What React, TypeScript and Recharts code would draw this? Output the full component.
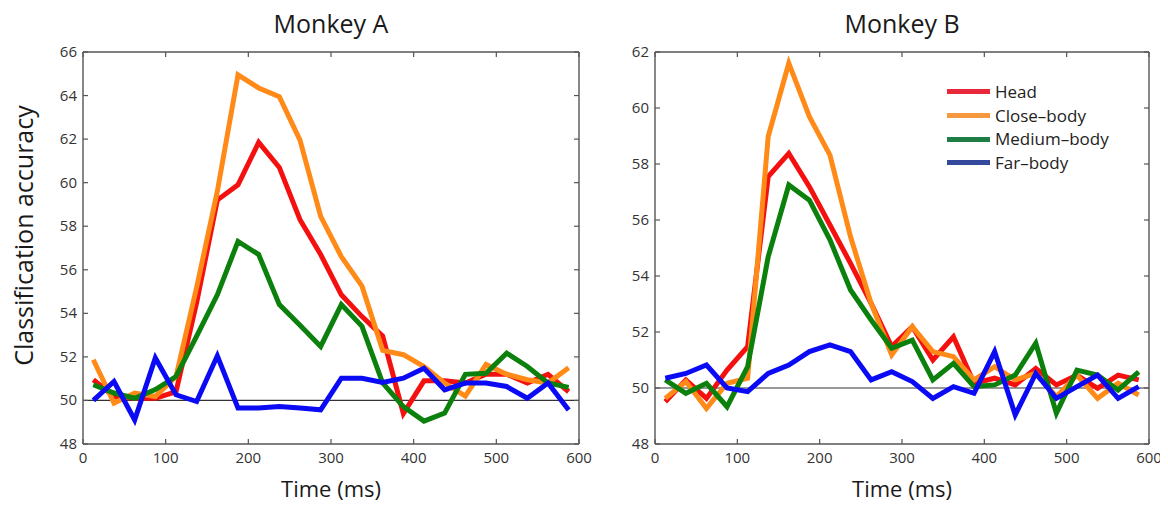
import React from 'react';
import { LineChart, Line, XAxis, YAxis, ReferenceLine, Legend } from 'recharts';

// ---------- data ----------
const times = [12.5, 37.5, 62.5, 87.5, 112.5, 137.5, 162.5, 187.5, 212.5, 237.5, 262.5, 287.5,
  312.5, 337.5, 362.5, 387.5, 412.5, 437.5, 462.5, 487.5, 512.5, 537.5, 562.5, 587.5];

const xTicks = [0, 100, 200, 300, 400, 500, 600];
const yTicksA = [48, 50, 52, 54, 56, 58, 60, 62, 64, 66];
const yTicksB = [48, 50, 52, 54, 56, 58, 60, 62];
const chanceLevel = 50;

const seriesNames = ['Head', 'Close\u2013body', 'Medium\u2013body', 'Far\u2013body'];
const seriesKeys = ['head', 'close', 'medium', 'far'];
const lineColors = ['#f51010', '#ff8a18', '#0c800c', '#0a0af5'];
const legendColors = ['#e8283a', '#f5983e', '#1d7d45', '#34489c'];

const aHead = [50.95, 50.18, 50.1, 50.1, 50.4, 54.5, 59.2, 59.9, 61.85, 60.7, 58.3, 56.7,
  54.85, 53.85, 52.95, 49.4, 50.9, 50.9, 50.8, 51.2, 51.2, 50.8, 51.2, 50.4];
const aClose = [51.87, 49.88, 50.34, 50.18, 51.1, 55.2, 59.6, 64.95, 64.35, 63.95, 61.95, 58.45,
  56.6, 55.25, 52.3, 52.1, 51.55, 50.8, 50.2, 51.65, 51.2, 50.95, 50.8, 51.5];
const aMedium = [50.72, 50.34, 50.1, 50.5, 51.1, 52.95, 54.85, 57.3, 56.7, 54.4, 53.45, 52.48,
  54.4, 53.4, 50.8, 49.72, 49.05, 49.42, 51.2, 51.25, 52.17, 51.56, 50.8, 50.6];
const aFar = [50.0, 50.87, 49.1, 51.95, 50.26, 49.95, 52.05, 49.65, 49.65, 49.72, 49.65, 49.57,
  51.02, 51.02, 50.83, 51.02, 51.48, 50.49, 50.8, 50.8, 50.64, 50.1, 50.8, 49.56];

const bHead = [49.51, 50.29, 49.63, 50.64, 51.48, 57.55, 58.38, 57.19, 55.82, 54.45, 53.02, 51.48,
  52.19, 51.0, 51.83, 50.17, 50.35, 50.11, 50.7, 50.11, 50.46, 49.99, 50.46, 50.29];
const bClose = [49.63, 50.23, 49.27, 50.17, 50.35, 58.98, 61.6, 59.69, 58.32, 55.4, 53.02, 51.18,
  52.19, 51.3, 51.12, 50.29, 50.76, 50.29, 50.52, 49.69, 50.46, 49.63, 50.17, 49.75];
const bMedium = [50.29, 49.81, 50.17, 49.33, 50.76, 54.69, 57.25, 56.71, 55.29, 53.5, 52.43, 51.42,
  51.71, 50.29, 50.88, 50.05, 50.11, 50.46, 51.6, 49.1, 50.64, 50.46, 49.93, 50.58];
const bFar = [50.35, 50.52, 50.82, 50.0, 49.87, 50.52, 50.82, 51.3, 51.54, 51.3, 50.29, 50.58,
  50.23, 49.63, 50.05, 49.81, 51.3, 49.04, 50.52, 49.63, 50.05, 50.46, 49.63, 50.05];

const build = (h: number[], c: number[], m: number[], f: number[]) =>
  times.map((t, i) => ({ t, head: h[i], close: c[i], medium: m[i], far: f[i] }));

const dataA = build(aHead, aClose, aMedium, aFar);
const dataB = build(bHead, bClose, bMedium, bFar);

// ---------- styling ----------
const FONT = '"Open Sans", "DejaVu Sans", sans-serif';
const AXIS = '#555';
const TICK_TEXT = '#333';
const TICK_LEN = 5;

const BottomTick = (props: any) => {
  const { x, y, payload } = props;
  return (
    <g>
      <line x1={x} y1={y} x2={x} y2={y - TICK_LEN} stroke={AXIS} strokeWidth={1.2} />
      <text x={x} y={y + 19} textAnchor="middle" fontSize={15} fill={TICK_TEXT} fontFamily={FONT}>
        {payload.value}
      </text>
    </g>
  );
};

const TopTick = (props: any) => {
  const { x, y } = props;
  return <line x1={x} y1={y} x2={x} y2={y + TICK_LEN} stroke={AXIS} strokeWidth={1.2} />;
};

const LeftTick = (props: any) => {
  const { x, y, payload } = props;
  return (
    <g>
      <line x1={x} y1={y} x2={x + TICK_LEN} y2={y} stroke={AXIS} strokeWidth={1.2} />
      <text x={x - 6} y={y} dy={5} textAnchor="end" fontSize={15} fill={TICK_TEXT} fontFamily={FONT}>
        {payload.value}
      </text>
    </g>
  );
};

const RightTick = (props: any) => {
  const { x, y } = props;
  return <line x1={x} y1={y} x2={x - TICK_LEN} y2={y} stroke={AXIS} strokeWidth={1.2} />;
};

const LegendBox = () => (
  <div style={{ fontFamily: FONT }}>
    {seriesNames.map((n, i) => (
      <div key={n} style={{ display: 'flex', alignItems: 'center', height: 23.7 }}>
        <span style={{ display: 'inline-block', width: 43, height: 5, background: legendColors[i], marginRight: 5 }} />
        <span style={{ fontSize: 17, color: '#222', lineHeight: '20px' }}>{n}</span>
      </div>
    ))}
  </div>
);

type PanelProps = {
  data: any[];
  yTicks: number[];
  width: number;
  yAxisWidth: number;
  rightMargin: number;
  showLegend?: boolean;
};

const CHART_H = 490;

const Panel = ({ data, yTicks, width, yAxisWidth, rightMargin, showLegend }: PanelProps) => {
  const yMin = yTicks[0];
  const yMax = yTicks[yTicks.length - 1];
  return (
    <LineChart
      width={width}
      height={CHART_H}
      data={data}
      margin={{ top: 43, right: rightMargin, left: 0, bottom: 24 }}
    >
      <XAxis
        dataKey="t"
        type="number"
        domain={[xTicks[0], xTicks[xTicks.length - 1]]}
        ticks={xTicks}
        height={30}
        tickSize={0}
        tickMargin={0}
        tickLine={false}
        tick={BottomTick}
        axisLine={{ stroke: AXIS, strokeWidth: 1.4 }}
        allowDataOverflow
        interval={0}
      />
      <XAxis
        xAxisId="top"
        orientation="top"
        dataKey="t"
        type="number"
        domain={[xTicks[0], xTicks[xTicks.length - 1]]}
        ticks={xTicks}
        height={1}
        tickSize={0}
        tickMargin={0}
        tickLine={false}
        tick={TopTick}
        axisLine={{ stroke: AXIS, strokeWidth: 1.4 }}
        allowDataOverflow
        interval={0}
      />
      <YAxis
        type="number"
        domain={[yMin, yMax]}
        ticks={yTicks}
        width={yAxisWidth}
        tickSize={0}
        tickMargin={0}
        tickLine={false}
        tick={LeftTick}
        axisLine={{ stroke: AXIS, strokeWidth: 1.4 }}
        allowDataOverflow
        interval={0}
      />
      <YAxis
        yAxisId="right"
        orientation="right"
        type="number"
        domain={[yMin, yMax]}
        ticks={yTicks}
        width={1}
        tickSize={0}
        tickMargin={0}
        tickLine={false}
        tick={RightTick}
        axisLine={{ stroke: AXIS, strokeWidth: 1.4 }}
        allowDataOverflow
        interval={0}
      />
      <ReferenceLine y={chanceLevel} stroke="#333" strokeWidth={1.2} ifOverflow="extendDomain" />
      {seriesKeys.map((k, i) => (
        <Line
          key={k}
          type="linear"
          dataKey={k}
          name={seriesNames[i]}
          stroke={lineColors[i]}
          strokeWidth={5}
          dot={false}
          activeDot={false}
          isAnimationActive={false}
        />
      ))}
      {showLegend && (
        <Legend
          layout="vertical"
          align="center"
          verticalAlign="middle"
          content={LegendBox}
          wrapperStyle={{ position: 'absolute', top: 72, left: 349, width: 190, height: 100 }}
        />
      )}
    </LineChart>
  );
};

const titleStyle: React.CSSProperties = {
  position: 'absolute',
  width: 300,
  textAlign: 'center',
  fontFamily: FONT,
  fontSize: 25,
  lineHeight: '25px',
  color: '#1a1a1a',
};

const xLabelStyle: React.CSSProperties = {
  position: 'absolute',
  width: 300,
  textAlign: 'center',
  fontFamily: FONT,
  fontSize: 22,
  lineHeight: '22px',
  color: '#1a1a1a',
};

export default function App() {
  return (
    <div style={{ position: 'relative', width: 1152, height: 498, background: '#fff' }}>
      <div style={{ position: 'absolute', left: 0, top: 0 }}>
        <Panel data={dataA} yTicks={yTicksA} width={590} yAxisWidth={75} rightMargin={18} />
      </div>
      <div style={{ position: 'absolute', left: 590, top: 0 }}>
        <Panel data={dataB} yTicks={yTicksB} width={570} yAxisWidth={57} rightMargin={18} showLegend />
      </div>
      <div style={{ ...titleStyle, left: 323 - 150, top: 3 }}>Monkey A</div>
      <div style={{ ...titleStyle, left: 894 - 150, top: 3 }}>Monkey B</div>
      <div style={{ ...xLabelStyle, left: 323 - 150, top: 469 }}>Time (ms)</div>
      <div style={{ ...xLabelStyle, left: 894 - 150, top: 469 }}>Time (ms)</div>
      <div
        style={{
          position: 'absolute',
          left: 14.5 - 160,
          top: 227 - 12.5,
          width: 320,
          height: 25,
          textAlign: 'center',
          fontFamily: FONT,
          fontSize: 25,
          lineHeight: '25px',
          color: '#1a1a1a',
          transform: 'rotate(-90deg)',
        }}
      >
        Classification accuracy
      </div>
    </div>
  );
}
